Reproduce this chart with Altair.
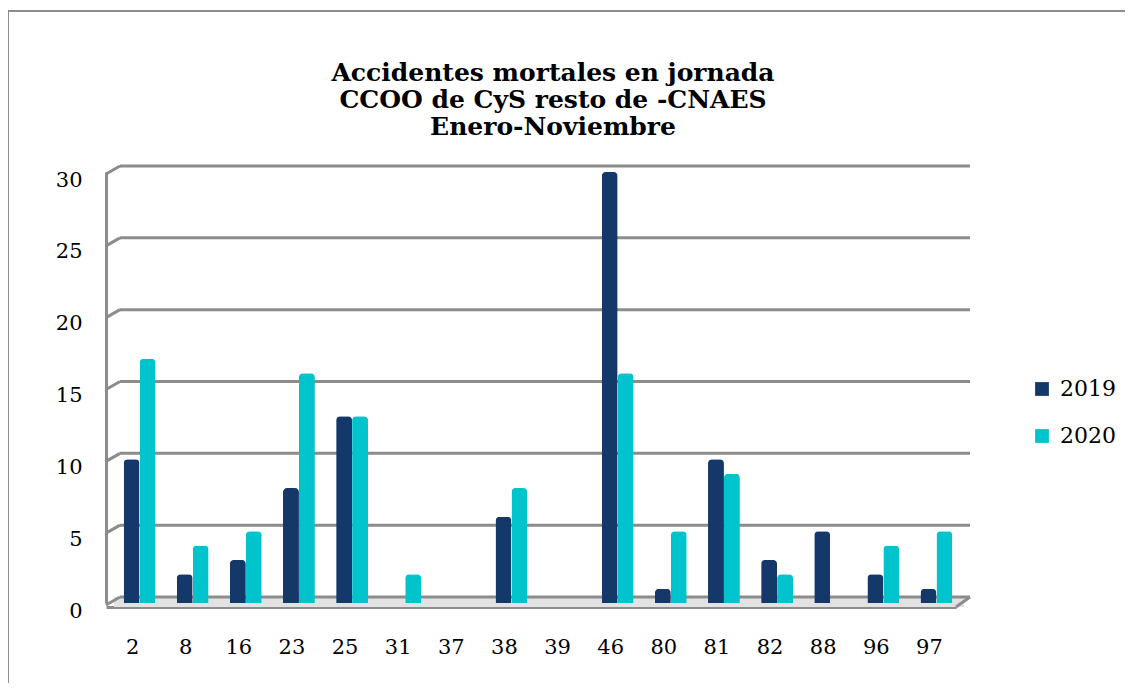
import altair as alt
import pandas as pd

categories = ["2", "8", "16", "23", "25", "31", "37", "38", "39", "46", "80", "81", "82", "88", "96", "97"]
values_2019 = [10, 2, 3, 8, 13, 0, 0, 6, 0, 30, 1, 10, 3, 5, 2, 1]
values_2020 = [17, 4, 5, 16, 13, 2, 0, 8, 0, 16, 5, 9, 2, 0, 4, 5]
series = ["2019", "2020"]
tick_values = [0, 5, 10, 15, 20, 25, 30]
title_lines = ["Accidentes mortales en jornada", "CCOO de CyS resto de -CNAES", "Enero-Noviembre"]

rows = []
for c, a, b in zip(categories, values_2019, values_2020):
    rows.append({"cat": c, "serie": series[0], "valor": a})
    rows.append({"cat": c, "serie": series[1], "valor": b})
df = pd.DataFrame(rows)
grid_df = pd.DataFrame({"v": tick_values})
floor_df = pd.DataFrame({"v": [0]})

FONT = "DejaVu Serif"
GRAY = "#8c8c8c"
W, H = 850, 431

yscale = alt.Scale(domain=[0, 30])

border = alt.Chart(floor_df).mark_rect(fill=None, stroke=GRAY, strokeWidth=2).encode(
    x=alt.value(-98), x2=alt.value(1100), y=alt.value(-161), y2=alt.value(600)
)

floor = alt.Chart(floor_df).mark_rect(color="#e2e2e2", yOffset=-6, y2Offset=4).encode(
    x=alt.value(8), x2=alt.value(858),
    y=alt.Y("v:Q", scale=yscale), y2="v"
)

grid = alt.Chart(grid_df).mark_rule(color=GRAY, strokeWidth=3, yOffset=-6).encode(
    x=alt.value(14), x2=alt.value(864),
    y=alt.Y("v:Q", scale=yscale)
)

diag = alt.Chart(grid_df).mark_rule(color=GRAY, strokeWidth=3, yOffset=2, y2Offset=-6).encode(
    x=alt.value(0), x2=alt.value(14),
    y=alt.Y("v:Q", scale=yscale), y2="v"
)

diag_right = alt.Chart(floor_df).mark_rule(color=GRAY, strokeWidth=3, yOffset=4, y2Offset=-6).encode(
    x=alt.value(850), x2=alt.value(864),
    y=alt.Y("v:Q", scale=yscale), y2="v"
)

title_marks = []
for i, line in enumerate(title_lines):
    title_marks.append(
        alt.Chart(floor_df).mark_text(font=FONT, fontSize=25, fontWeight="bold", color="#000",
                                      align="center", baseline="middle").encode(
            x=alt.value(447), y=alt.value(-99 + 27 * i), text=alt.value(line)
        )
    )

bars = alt.Chart(df).mark_bar(cornerRadiusTopLeft=4, cornerRadiusTopRight=4).encode(
    x=alt.X("cat:N", sort=categories, title=None,
            scale=alt.Scale(paddingInner=0.4, paddingOuter=0.2, align=0.83),
            axis=alt.Axis(labelAngle=0, labelFont=FONT, labelFontSize=21, labelColor="#000",
                          labelPadding=29, ticks=False, domainColor=GRAY, domainWidth=3,
                          offset=4, grid=False, labelOffset=-7)),
    xOffset=alt.XOffset("serie:N", sort=series),
    y=alt.Y("valor:Q", scale=yscale, title=None,
            axis=alt.Axis(values=tick_values, labelFont=FONT, labelFontSize=21, labelColor="#000",
                          labelPadding=24, ticks=False, domainColor=GRAY, domainWidth=3,
                          grid=False, labelOffset=8)),
    color=alt.Color("serie:N", scale=alt.Scale(domain=series, range=["#14386a", "#00c4cc"]),
                    legend=alt.Legend(title=None, orient="none", legendX=925, legendY=206,
                                      symbolType="square", symbolSize=190, symbolStrokeWidth=0,
                                      labelFont=FONT, labelFontSize=22, labelColor="#000",
                                      rowPadding=25, labelOffset=7)),
)

chart = alt.layer(border, floor, grid, diag, diag_right, bars, *title_marks).properties(
    width=W, height=H,
    padding={"left": 98, "top": 164, "right": 169, "bottom": 80},
    autosize=alt.AutoSizeParams(type="none"),
).configure_view(stroke=None)

chart.save("out.html", embed_options={"renderer": "svg", "actions": False})
